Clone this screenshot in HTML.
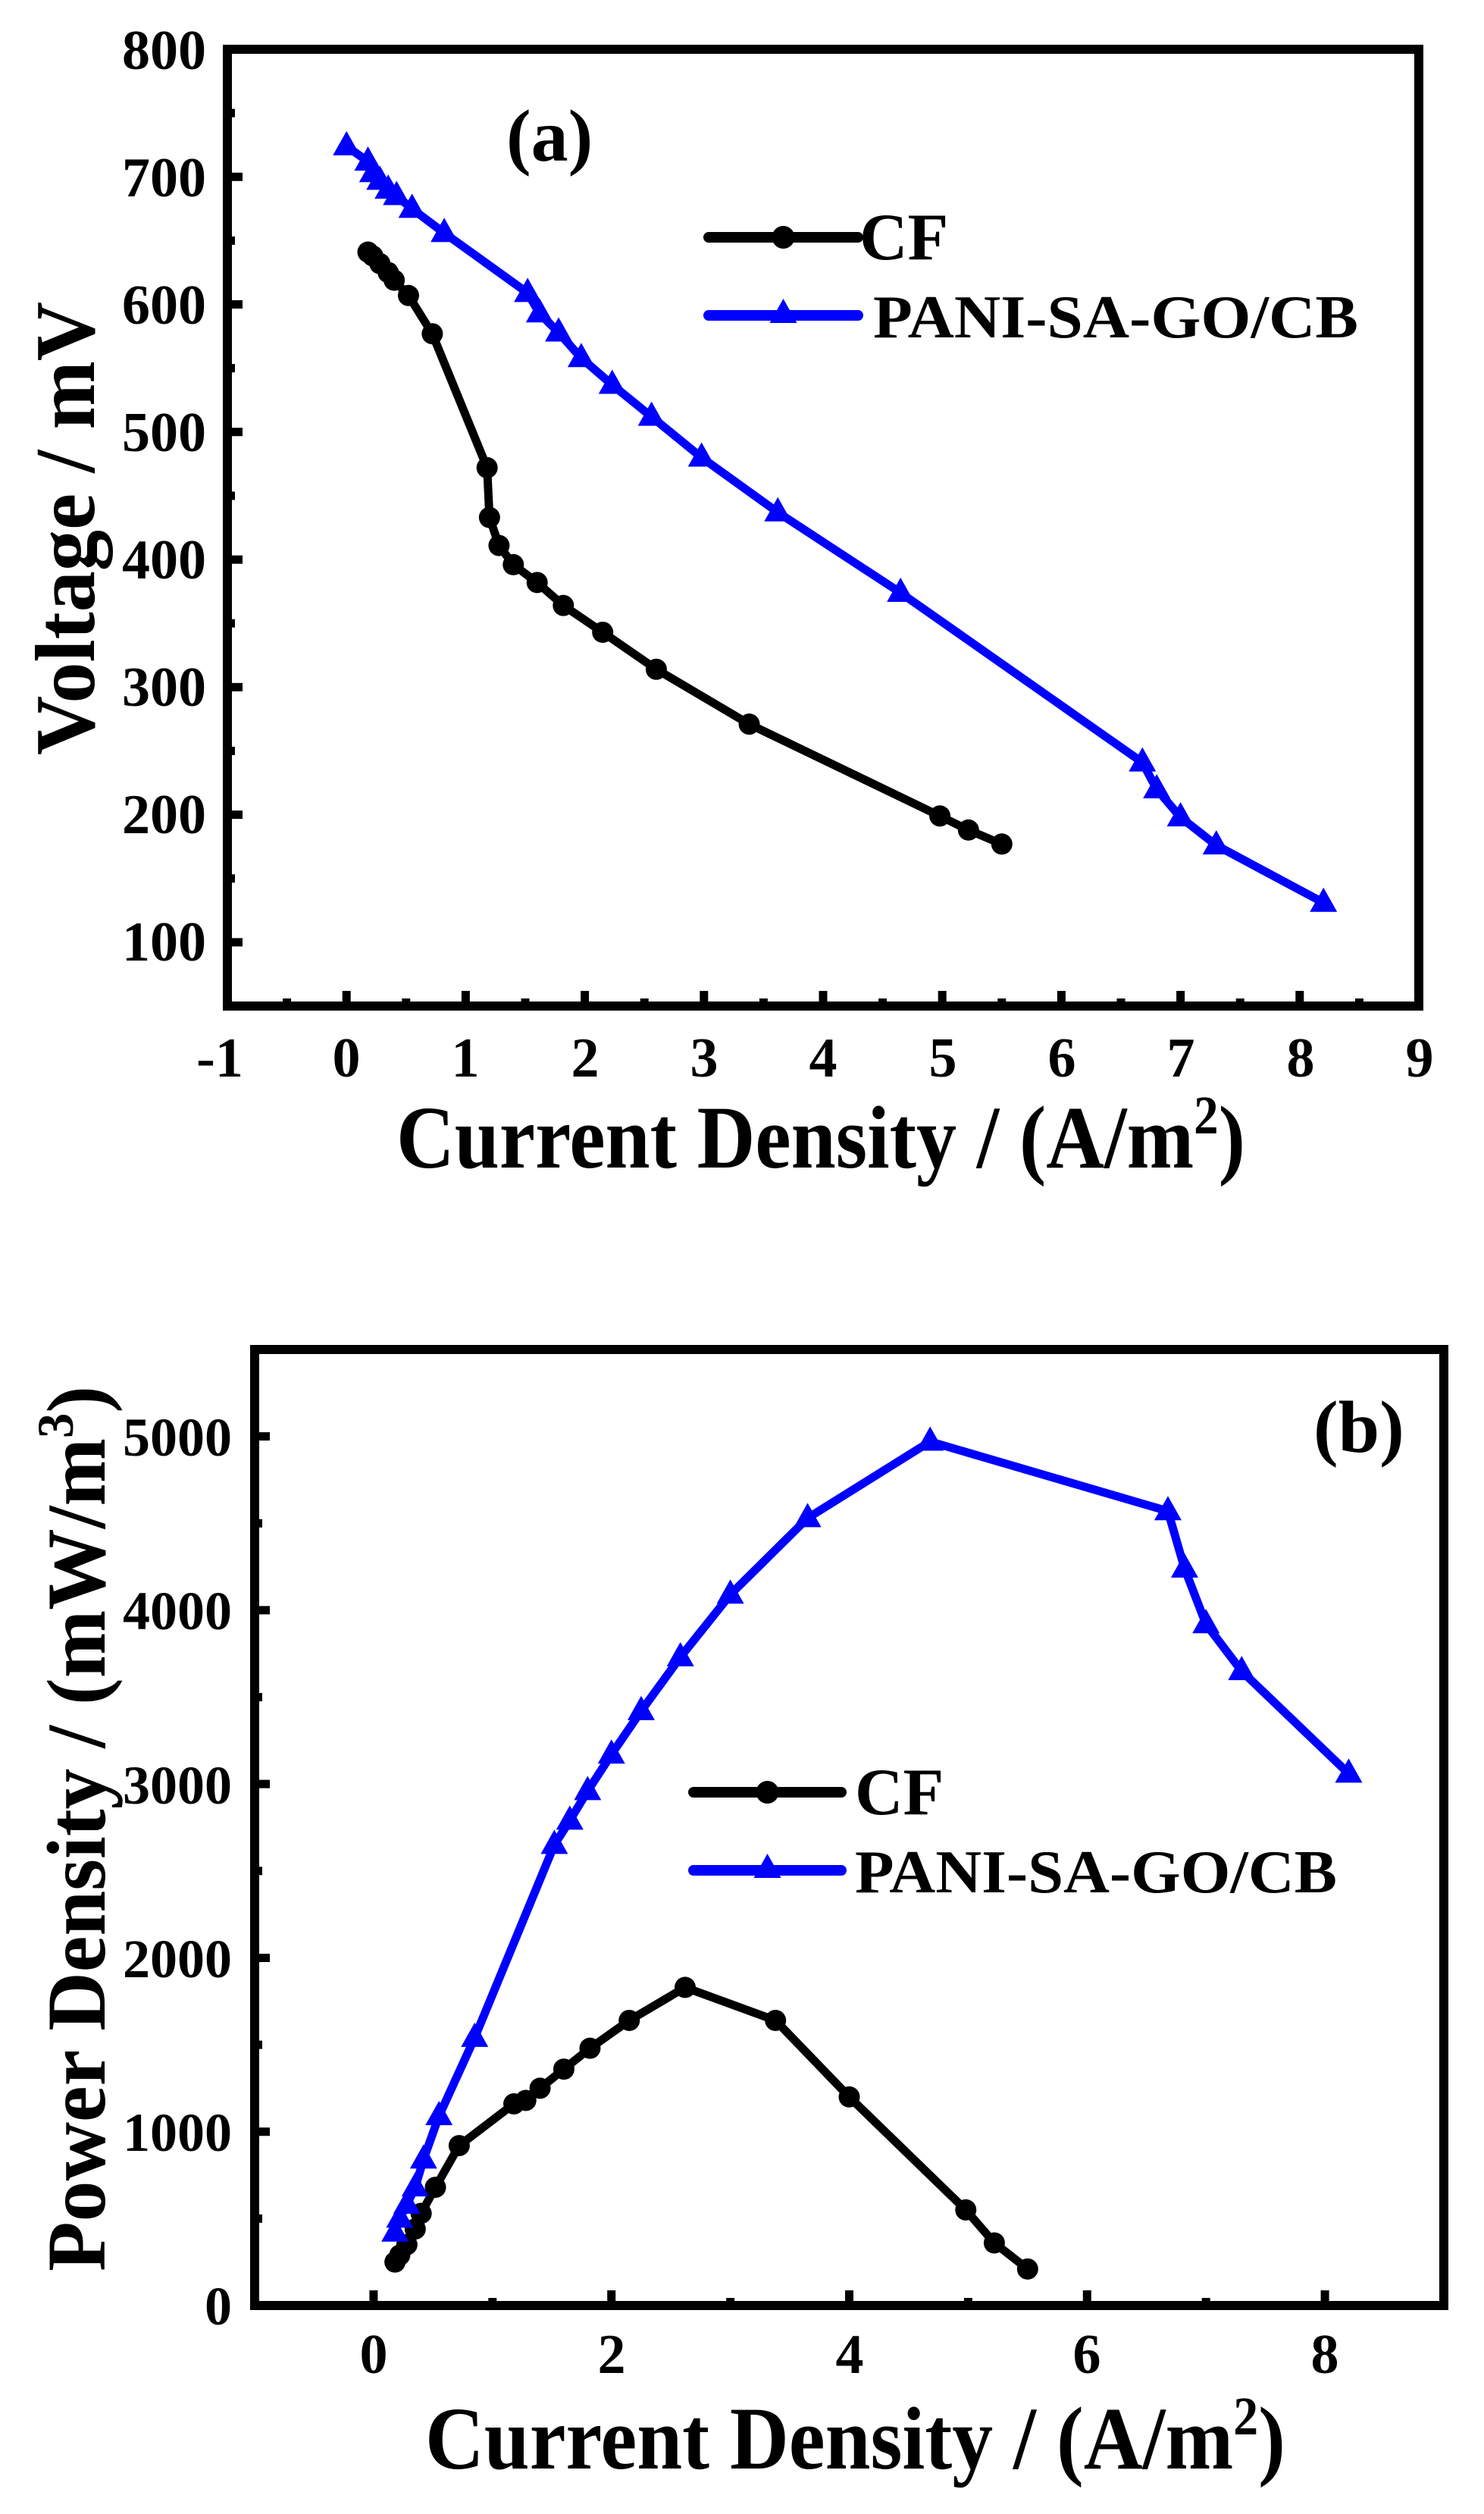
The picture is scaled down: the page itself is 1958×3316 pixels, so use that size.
<!DOCTYPE html>
<html><head><meta charset="utf-8"><style>
html,body{margin:0;padding:0;background:#fff;}
svg{display:block;}
text{font-family:"Liberation Serif",serif;font-weight:bold;fill:#000;}
</style></head><body>
<svg id="s" width="1958" height="3316" viewBox="0 0 1958 3316" xmlns="http://www.w3.org/2000/svg">
<g id="ga"></g><g id="gb"></g>
<!-- (a) labels -->
<g font-size="74" text-anchor="end">
<text x="272" y="91">800</text><text x="272" y="259">700</text><text x="272" y="427">600</text><text x="272" y="595">500</text><text x="272" y="763">400</text><text x="272" y="931">300</text><text x="272" y="1099">200</text><text x="272" y="1267">100</text>
</g>
<g font-size="74" text-anchor="middle">
<text x="290" y="1420">-1</text><text x="457" y="1420">0</text><text x="614" y="1420">1</text><text x="772" y="1420">2</text><text x="929" y="1420">3</text><text x="1086" y="1420">4</text><text x="1244" y="1420">5</text><text x="1401" y="1420">6</text><text x="1558" y="1420">7</text><text x="1716" y="1420">8</text><text x="1873" y="1420">9</text>
</g>
<text x="523" y="1540" font-size="118" textLength="1120" lengthAdjust="spacingAndGlyphs">Current Density / (A/m<tspan dy="-45" font-size="72">2</tspan><tspan dy="45">)</tspan></text>
<text transform="translate(124,996) rotate(-90)" font-size="112" textLength="598" lengthAdjust="spacingAndGlyphs">Voltage / mV</text>
<text x="668" y="212" font-size="98">(a)</text>
<text x="1134" y="342" font-size="88">CF</text>
<text x="1152" y="445" font-size="80" textLength="640" lengthAdjust="spacingAndGlyphs">PANI-SA-GO/CB</text>
<!-- (b) labels -->
<g font-size="72" text-anchor="end">
<text x="306" y="3066">0</text><text x="306" y="2837">1000</text><text x="306" y="2608">2000</text><text x="306" y="2379">3000</text><text x="306" y="2149">4000</text><text x="306" y="1920">5000</text>
</g>
<g font-size="74" text-anchor="middle">
<text x="493" y="3130">0</text><text x="807" y="3130">2</text><text x="1121" y="3130">4</text><text x="1434" y="3130">6</text><text x="1748" y="3130">8</text>
</g>
<text x="561" y="3256" font-size="118" textLength="1135" lengthAdjust="spacingAndGlyphs">Current Density / (A/m<tspan dy="-45" font-size="72">2</tspan><tspan dy="45">)</tspan></text>
<text transform="translate(138,2996) rotate(-90)" font-size="110" textLength="1168" lengthAdjust="spacingAndGlyphs">Power Density / (mW/m<tspan dy="-42" font-size="68">3</tspan><tspan dy="42">)</tspan></text>
<text x="1733" y="1915" font-size="98">(b)</text>
<text x="1128" y="2393" font-size="88">CF</text>
<text x="1128" y="2496" font-size="80" textLength="636" lengthAdjust="spacingAndGlyphs">PANI-SA-GO/CB</text>
</svg>
<script>
var NS="http://www.w3.org/2000/svg";
function el(p,n,a){var e=document.createElementNS(NS,n);for(var k in a)e.setAttribute(k,a[k]);p.appendChild(e);return e;}
function plot(g,ax,cf,pa,legY){
 var X=function(v){return ax.x0+(v-ax.xmin)/(ax.xmax-ax.xmin)*(ax.x1-ax.x0);};
 var Y=function(v){return ax.y1-(v-ax.ymin)/(ax.ymax-ax.ymin)*(ax.y1-ax.y0);};
 // ticks
 for(var v=ax.xmin;v<=ax.xmax+1e-9;v+=ax.xminor){var maj=Math.abs(Math.round((v-ax.xmaj0)/ax.xmajor)*ax.xmajor+ax.xmaj0-v)<1e-6;var L=maj?20:10;
  el(g,"line",{x1:X(v),x2:X(v),y1:ax.y1,y2:ax.y1-L,stroke:"#000","stroke-width":11});}
 for(var v=ax.ymin;v<=ax.ymax+1e-9;v+=ax.yminor){var maj=Math.abs(Math.round(v/ax.ymajor)*ax.ymajor-v)<1e-6;var L=maj?20:10;
  el(g,"line",{x1:ax.x0,x2:ax.x0+L,y1:Y(v),y2:Y(v),stroke:"#000","stroke-width":11});}
 el(g,"rect",{x:ax.x0,y:ax.y0,width:ax.x1-ax.x0,height:ax.y1-ax.y0,fill:"none",stroke:"#000","stroke-width":12});
 function series(d,col,tri){
  var pts=d.map(function(p){return X(p[0])+","+Y(p[1]);}).join(" ");
  el(g,"polyline",{points:pts,fill:"none",stroke:col,"stroke-width":11,"stroke-linejoin":"round","stroke-linecap":"round"});
  d.forEach(function(p){var x=X(p[0]),y=Y(p[1]);
   if(tri)el(g,"polygon",{points:(x)+","+(y-20)+" "+(x-18)+","+(y+12)+" "+(x+18)+","+(y+12),fill:col});
   else el(g,"circle",{cx:x,cy:y,r:14,fill:col});});
 }
 series(cf,"#000",false);series(pa,"#0000ff",true);
 // legend
 el(g,"line",{x1:ax.lx0,x2:ax.lx1,y1:legY[0],y2:legY[0],stroke:"#000","stroke-width":14,"stroke-linecap":"round"});
 el(g,"circle",{cx:(ax.lx0+ax.lx1)/2,cy:legY[0],r:15,fill:"#000"});
 el(g,"line",{x1:ax.lx0,x2:ax.lx1,y1:legY[1],y2:legY[1],stroke:"#0000ff","stroke-width":14,"stroke-linecap":"round"});
 var cx=(ax.lx0+ax.lx1)/2,cy=legY[1];
 el(g,"polygon",{points:cx+","+(cy-22)+" "+(cx-18)+","+(cy+10)+" "+(cx+18)+","+(cy+10),fill:"#0000ff"});
}
var cfA=[[0.18,641],[0.22,638],[0.28,632],[0.35,625],[0.4,619],[0.52,607],[0.72,577],[1.18,472],[1.2,433],[1.28,411],[1.4,396],[1.6,382],[1.82,364],[2.15,343],[2.6,314],[3.38,271],[4.98,199],[5.22,188],[5.5,177]];
var paA=[[0,724],[0.18,712],[0.22,703],[0.28,697],[0.35,690],[0.42,685],[0.55,675],[0.82,656],[1.52,609],[1.62,593],[1.78,578],[1.97,558],[2.23,537],[2.56,512],[2.98,480],[3.62,437],[4.65,374],[6.68,241],[6.8,220],[7.0,198],[7.3,176],[8.2,131]];
var cfB=[[0.18,250],[0.22,290],[0.28,350],[0.35,440],[0.4,530],[0.52,680],[0.72,920],[1.18,1160],[1.28,1180],[1.4,1250],[1.6,1360],[1.82,1480],[2.15,1640],[2.62,1830],[3.38,1640],[4.0,1200],[4.98,550],[5.22,360],[5.5,210]];
var paB=[[0.18,420],[0.22,500],[0.28,580],[0.35,680],[0.42,840],[0.55,1090],[0.85,1540],[1.52,2650],[1.65,2790],[1.8,2960],[2.0,3170],[2.25,3420],[2.58,3730],[3.0,4090],[3.65,4530],[4.68,4970],[6.68,4570],[6.82,4240],[7.0,3920],[7.3,3650],[8.2,3060]];
plot(document.getElementById("ga"),{x0:300,x1:1872,y0:65,y1:1327,xmin:-1,xmax:9,ymin:50,ymax:800,xminor:0.5,xmajor:1,xmaj0:0,yminor:50,ymajor:100,lx0:935,lx1:1132},cfA,paA,[313,416]);
plot(document.getElementById("gb"),{x0:336,x1:1905,y0:1780,y1:3041,xmin:-1,xmax:9,ymin:0,ymax:5500,xminor:1,xmajor:2,xmaj0:0,yminor:500,ymajor:1000,lx0:915,lx1:1110},cfB,paB,[2364,2467]);
</script>
</body></html>
